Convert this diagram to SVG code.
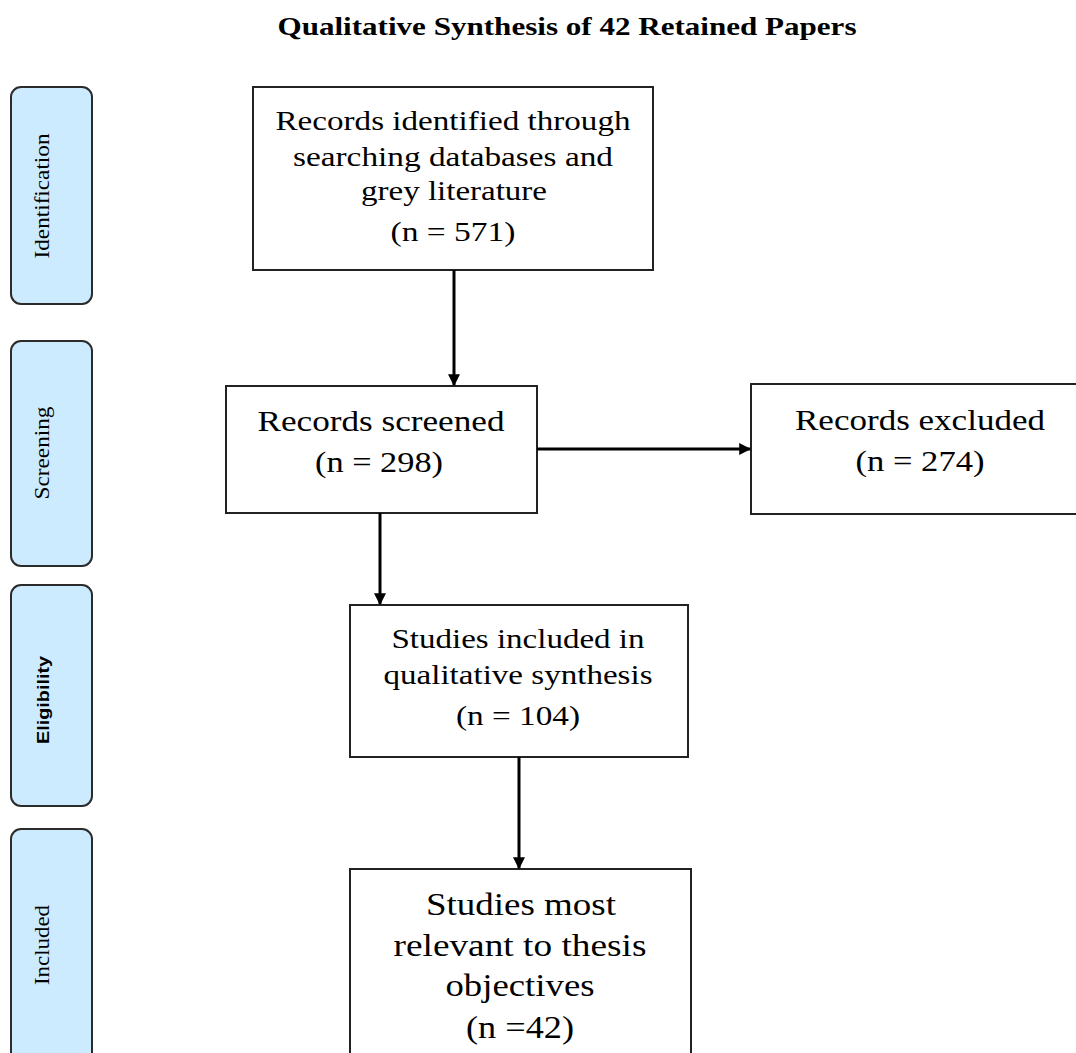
<svg xmlns="http://www.w3.org/2000/svg" width="1076" height="1053" viewBox="0 0 1076 1053">
<style>
.side{fill:#cdebfe;stroke:#2b2b2b;stroke-width:2}
.box{fill:#fff;stroke:#222;stroke-width:2}
.t{font-family:"Liberation Serif","Times New Roman",serif;fill:#000;text-anchor:middle}
.st{font-family:"Liberation Serif","Times New Roman",serif;font-size:20px;fill:#000;text-anchor:middle}
.ss{font-family:"Liberation Sans",Arial,sans-serif;font-size:17px;font-weight:bold;fill:#000;text-anchor:middle}
.c{stroke:#000;stroke-width:3;fill:none}
</style>
<defs>
<marker id="ah" viewBox="0 0 10 10" refX="9" refY="5" markerWidth="4" markerHeight="4" orient="auto" markerUnits="strokeWidth">
<path d="M0,0 L10,5 L0,10 z" fill="#000"/>
</marker>
</defs>
<rect width="1076" height="1053" fill="#fff"/>
<text class="t" x="567" y="35" font-size="25" font-weight="bold" textLength="579" lengthAdjust="spacingAndGlyphs">Qualitative Synthesis of 42 Retained Papers</text>

<g id="side-identification">
<rect class="side" x="11" y="87" width="81" height="217" rx="10"/>
<text class="st" transform="translate(49,196) rotate(-90)" textLength="125" lengthAdjust="spacingAndGlyphs">Identification</text>
</g>
<g id="side-screening">
<rect class="side" x="11" y="341" width="81" height="225" rx="10"/>
<text class="st" transform="translate(49,453) rotate(-90)" textLength="93" lengthAdjust="spacingAndGlyphs">Screening</text>
</g>
<g id="side-eligibility">
<rect class="side" x="11" y="585" width="81" height="221" rx="10"/>
<text class="ss" transform="translate(49,700) rotate(-90)" textLength="88" lengthAdjust="spacingAndGlyphs">Eligibility</text>
</g>
<g id="side-included">
<rect class="side" x="11" y="829" width="81" height="240" rx="10"/>
<text class="st" transform="translate(49,945) rotate(-90)" textLength="80" lengthAdjust="spacingAndGlyphs">Included</text>
</g>

<g id="n-identified">
<rect class="box" x="253" y="87" width="400" height="183"/>
<text class="t" font-size="27"><tspan x="453" y="130" textLength="355" lengthAdjust="spacingAndGlyphs">Records identified through</tspan><tspan x="453" y="166" textLength="320" lengthAdjust="spacingAndGlyphs">searching databases and</tspan><tspan x="454" y="200" textLength="186" lengthAdjust="spacingAndGlyphs">grey literature</tspan><tspan x="453" y="241" textLength="125" lengthAdjust="spacingAndGlyphs">(n = 571)</tspan></text>
</g>
<g id="n-screened">
<rect class="box" x="226" y="386" width="311" height="127"/>
<text class="t" font-size="29"><tspan x="381" y="431" textLength="247" lengthAdjust="spacingAndGlyphs">Records screened</tspan><tspan x="379" y="472" textLength="128" lengthAdjust="spacingAndGlyphs">(n = 298)</tspan></text>
</g>
<g id="n-excluded">
<rect class="box" x="751" y="384" width="340" height="130"/>
<text class="t" font-size="29"><tspan x="920" y="430" textLength="250" lengthAdjust="spacingAndGlyphs">Records excluded</tspan><tspan x="920" y="471" textLength="129" lengthAdjust="spacingAndGlyphs">(n = 274)</tspan></text>
</g>
<g id="n-qualitative">
<rect class="box" x="350" y="605" width="338" height="152"/>
<text class="t" font-size="27"><tspan x="518" y="648" textLength="253" lengthAdjust="spacingAndGlyphs">Studies included in</tspan><tspan x="518" y="684" textLength="269" lengthAdjust="spacingAndGlyphs">qualitative synthesis</tspan><tspan x="518" y="725" textLength="124" lengthAdjust="spacingAndGlyphs">(n = 104)</tspan></text>
</g>
<g id="n-relevant">
<rect class="box" x="350" y="869" width="341" height="200"/>
<text class="t" font-size="31"><tspan x="521" y="915" textLength="190" lengthAdjust="spacingAndGlyphs">Studies most</tspan><tspan x="520" y="956" textLength="253" lengthAdjust="spacingAndGlyphs">relevant to thesis</tspan><tspan x="520" y="996" textLength="149" lengthAdjust="spacingAndGlyphs">objectives</tspan><tspan x="520" y="1038" textLength="108" lengthAdjust="spacingAndGlyphs">(n =42)</tspan></text>
</g>

<g id="connectors">
<line class="c" x1="454" y1="270" x2="454" y2="385" marker-end="url(#ah)"/>
<line class="c" x1="537" y1="449" x2="750" y2="449" marker-end="url(#ah)"/>
<line class="c" x1="380" y1="513" x2="380" y2="604" marker-end="url(#ah)"/>
<line class="c" x1="519" y1="757" x2="519" y2="868" marker-end="url(#ah)"/>
</g>
</svg>
